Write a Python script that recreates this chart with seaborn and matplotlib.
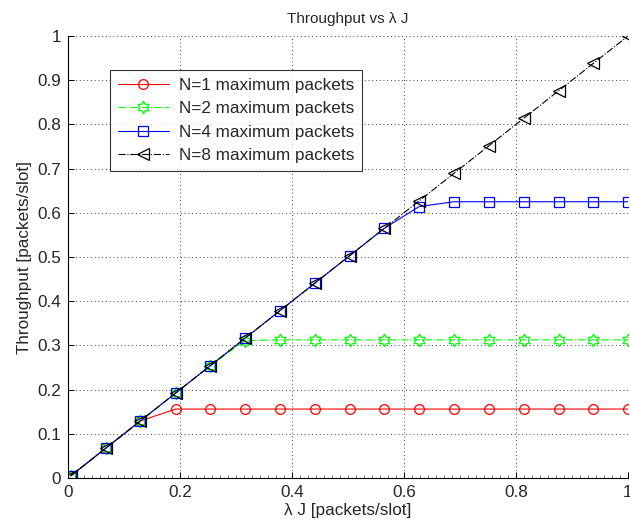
import numpy as np
import pandas as pd
import seaborn as sns
import matplotlib
matplotlib.use("Agg")
import matplotlib.pyplot as plt
from matplotlib.path import Path
from matplotlib.ticker import MultipleLocator

# arrival rate (lambda J) and throughput
lam = [0.005, 0.067, 0.129, 0.192, 0.254, 0.316, 0.378, 0.441, 0.503, 0.565,
       0.627, 0.689, 0.751, 0.814, 0.876, 0.938, 1.0]
thr_n1 = [0.005, 0.067, 0.129, 0.156, 0.156, 0.156, 0.156, 0.156, 0.156, 0.156,
          0.156, 0.156, 0.156, 0.156, 0.156, 0.156, 0.156]
thr_n2 = [0.005, 0.067, 0.129, 0.192, 0.254, 0.311, 0.3125, 0.3125, 0.3125, 0.3125,
          0.3125, 0.3125, 0.3125, 0.3125, 0.3125, 0.3125, 0.3125]
thr_n4 = [0.005, 0.067, 0.129, 0.192, 0.254, 0.316, 0.378, 0.441, 0.503, 0.565,
          0.614, 0.625, 0.625, 0.625, 0.625, 0.625, 0.625]
thr_n8 = [0.005, 0.067, 0.129, 0.192, 0.254, 0.316, 0.378, 0.441, 0.503, 0.565,
          0.627, 0.689, 0.751, 0.814, 0.876, 0.938, 1.0]
labels = ["N=1 maximum packets", "N=2 maximum packets",
          "N=4 maximum packets", "N=8 maximum packets"]

xticks = [0, 0.2, 0.4, 0.6, 0.8, 1]
xticklabels = ["0", "0.2", "0.4", "0.6", "0.8", "1"]
yticks = [0, 0.1, 0.2, 0.3, 0.4, 0.5, 0.6, 0.7, 0.8, 0.9, 1]
yticklabels = ["0", "0.1", "0.2", "0.3", "0.4", "0.5", "0.6", "0.7", "0.8", "0.9", "1"]

# six-pointed star marker (like matlab 'hexagram')
ang = np.deg2rad(90 + 30 * np.arange(12))
rad = np.where(np.arange(12) % 2 == 0, 1.0, 0.577)
verts = np.column_stack([rad * np.cos(ang), rad * np.sin(ang)])
verts = np.vstack([verts, verts[:1]])
hexagram = Path(verts, [Path.MOVETO] + [Path.LINETO] * 11 + [Path.CLOSEPOLY])

sns.set_style("white")
plt.rcParams['font.family'] = ['Liberation Sans', 'DejaVu Sans']

fig = plt.figure(figsize=(6.3, 5.31), dpi=100)
ax = fig.add_axes([68 / 630, 53 / 531, 560 / 630, 442 / 531])

styles = [
    (thr_n1, (1, 0, 0), "o", "-", 7),
    (thr_n2, (0, 1, 0), hexagram, "-.", 9),
    (thr_n4, (0, 0, 1), "s", "-", 6.5),
    (thr_n8, (0, 0, 0), "<", "-.", 8.5),
]
for (vals, col, mk, ls, ms), lab in zip(styles, labels):
    sns.lineplot(x=lam, y=vals, ax=ax, color=col, marker=mk, linestyle=ls,
                 linewidth=0.8, markersize=ms, markerfacecolor="none",
                 markeredgecolor=col, markeredgewidth=0.9, label=lab)

ax.set_xlim(0, 1)
ax.set_ylim(0, 1)
ax.set_xticks(xticks)
ax.set_xticklabels(xticklabels)
ax.set_yticks(yticks)
ax.set_yticklabels(yticklabels)
ax.xaxis.set_minor_locator(MultipleLocator(1 / 70))
ax.tick_params(axis="both", which="major", direction="in", length=4,
               width=0.7, color="k", labelsize=12.3, pad=5,
               bottom=True, left=True, top=False, right=False)
ax.tick_params(axis="x", which="minor", direction="in", length=2.5,
               width=0.6, color="0.3", bottom=True, top=False)
ax.grid(True, which="major", color="k", linestyle=(0, (1, 3.5)), linewidth=0.6)

for side in ["top", "right"]:
    ax.spines[side].set_visible(False)
for side in ["left", "bottom"]:
    ax.spines[side].set_color("k")
    ax.spines[side].set_linewidth(0.8)

ax.set_title("Throughput vs λ J", fontsize=11, pad=9)
ax.set_xlabel("λ J [packets/slot]", fontsize=12.3, labelpad=2)
ax.set_ylabel("Throughput [packets/slot]", fontsize=12.3, labelpad=4)

leg = ax.legend(loc="upper left", bbox_to_anchor=(0.075, 0.923), borderaxespad=0,
                fontsize=12.3, frameon=True, fancybox=False, handlelength=3.0,
                labelspacing=0.5, borderpad=0.45, handletextpad=0.6)
leg.get_frame().set_edgecolor("k")
leg.get_frame().set_linewidth(0.8)

fig.savefig("out.png", dpi=100)
